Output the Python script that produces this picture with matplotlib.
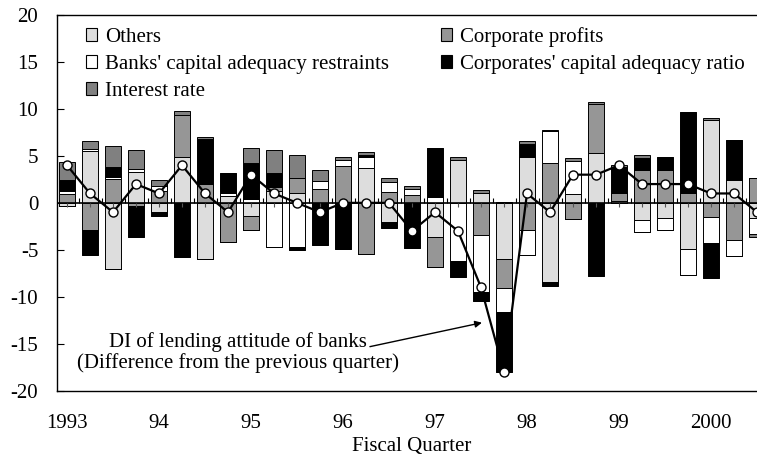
import numpy as np
import matplotlib
matplotlib.use("Agg")
import matplotlib.pyplot as plt
from matplotlib.patches import Patch

plt.rcParams["font.family"] = ["Liberation Serif", "DejaVu Serif"]

# Fiscal quarters 1993Q1 .. 2000Q3
year_labels = ["1993", "94", "95", "96", "97", "98", "99", "2000"]

# Contributions (percentage points), one value per quarter
others = [-0.3, 5.5, -7.0, 3.3, -0.95, 4.9, -6.0, 0.7,
          -1.4, 1.3, 1.05, 0.0, 0.0, 3.7, -2.0, 0.0,
          -3.65, 4.6, 1.05, -5.95, 4.85, -8.45, 0.95, 5.3,
          0.2, -1.85, -1.6, -4.9, 8.85, 2.45, -1.65]
corp_profits = [0.95, -2.85, 2.5, -0.3, 1.25, 4.5, 2.0, -4.2,
                -1.45, 0.35, 1.6, 1.5, 3.95, -5.4, 1.15, 0.8,
                -3.15, 0.0, -3.45, -3.15, -2.9, 4.25, -1.75, 5.2,
                0.9, 3.45, 3.45, 1.1, -1.55, -3.95, 2.6]
banks = [0.3, 0.25, 0.2, 0.35, 0.5, 0.0, 0.0, 0.4,
         0.45, -4.65, -4.65, 0.8, 0.65, 1.15, 1.1, 0.65,
         0.6, -6.2, -6.05, -2.55, -2.7, 3.35, 3.5, 0.0,
         0.0, -1.25, -1.3, -2.75, -2.75, -1.75, -1.65]
corporates = [1.15, -2.7, 1.1, -3.3, -0.45, -5.75, 4.85, 2.1,
              3.75, 1.5, -0.4, -4.45, -4.9, 0.2, -0.65, -4.8,
              5.2, -1.7, -0.9, -6.4, 1.45, -0.35, 0.0, -7.75,
              2.7, 1.3, 1.45, 8.55, -3.75, 4.25, 0.0]
interest = [1.9, 0.8, 2.2, 1.95, 0.65, 0.35, 0.15, 0.0,
            1.65, 2.5, 2.4, 1.15, 0.3, 0.35, 0.4, 0.35,
            0.0, 0.3, 0.35, 0.05, 0.3, 0.2, 0.3, 0.25,
            0.2, 0.35, 0.0, 0.0, 0.2, 0.0, -0.3]
di_lending = [4, 1, -1, 2, 1, 4, 1, -1, 3, 1, 0, -1, 0, 0, 0, -3,
              -1, -3, -9, -18, 1, -1, 3, 3, 4, 2, 2, 2, 1, 1, -1]

series = [
    ("Others", others, "#dddddd"),
    ("Corporate profits", corp_profits, "#969696"),
    ("Banks' capital adequacy restraints", banks, "white"),
    ("Corporates' capital adequacy ratio", corporates, "black"),
    ("Interest rate", interest, "#808080"),
]

x = np.arange(len(di_lending))

fig = plt.figure(figsize=(7.57, 4.59), dpi=100)
ax = fig.add_axes([57 / 757, 1 - 390.7 / 459, 700 / 757, 375.7 / 459])

pos_bottom = np.zeros(len(x))
neg_bottom = np.zeros(len(x))
for name, vals, color in series:
    vals = np.array(vals, dtype=float)
    pos = np.where(vals > 0, vals, 0)
    neg = np.where(vals < 0, vals, 0)
    ax.bar(x, pos, bottom=pos_bottom, width=0.7, color=color,
           edgecolor="black", linewidth=0.7, zorder=2)
    ax.bar(x, neg, bottom=neg_bottom, width=0.7, color=color,
           edgecolor="black", linewidth=0.7, zorder=2)
    pos_bottom += pos
    neg_bottom += neg

# zero line with category ticks
ax.axhline(0, color="black", lw=1.2, zorder=3)
ax.vlines(x[:-1] + 0.5, 0, 0.5, color="black", lw=0.8, zorder=3)
ax.vlines(x, -0.45, 0, color="#555555", lw=0.8, zorder=3)

ax.plot(x, di_lending, color="black", lw=1.6, marker="o", markersize=6.5,
        markerfacecolor="white", markeredgecolor="black", markeredgewidth=1.0,
        zorder=4)

ax.set_xlim(-0.435, 30.0)
ax.set_ylim(-20, 20)
ax.set_yticks(np.arange(-20, 21, 5))
ax.set_yticklabels([str(v) for v in range(-20, 21, 5)])
ax.set_xticks(x[::4])
ax.set_xticklabels(year_labels)
ax.tick_params(axis="y", direction="in", length=5, width=0.8, pad=13.5, labelsize=15)
ax.tick_params(axis="x", length=0, pad=17, labelsize=15)
ax.spines["right"].set_visible(False)
for s in ["left", "top", "bottom"]:
    ax.spines[s].set_linewidth(1.0)

ax.set_xlabel("Fiscal Quarter", fontsize=15)
ax.xaxis.set_label_coords((412 - 57) / 700, -(446 - 390.7) / 375.7)
ax.xaxis.label.set_va("center")

ax.text(7.43, -15.95, "DI of lending attitude of banks\n(Difference from the previous quarter)",
        ha="center", va="center", multialignment="center", fontsize=15,
        linespacing=1.1, zorder=5)
ax.annotate("", xy=(18.04, -12.76), xytext=(13.17, -15.31),
            arrowprops=dict(arrowstyle="-|>", color="black", lw=1.0,
                            mutation_scale=10, shrinkA=0, shrinkB=0),
            zorder=5)

handles = {name: Patch(facecolor=color, edgecolor="black", linewidth=0.8)
           for name, vals, color in series}
order = ["Others", "Banks' capital adequacy restraints", "Interest rate",
         "Corporate profits", "Corporates' capital adequacy ratio"]
ax.legend([handles[n] for n in order], order, loc="upper left",
          bbox_to_anchor=(86 / 757, 1 - 27 / 459), bbox_transform=fig.transFigure,
          ncol=2, frameon=False, fontsize=15, handlelength=0.55, handleheight=0.55,
          handletextpad=0.35, columnspacing=2.5, labelspacing=0.38,
          borderaxespad=0, borderpad=0)

fig.savefig("out.png", dpi=100)
